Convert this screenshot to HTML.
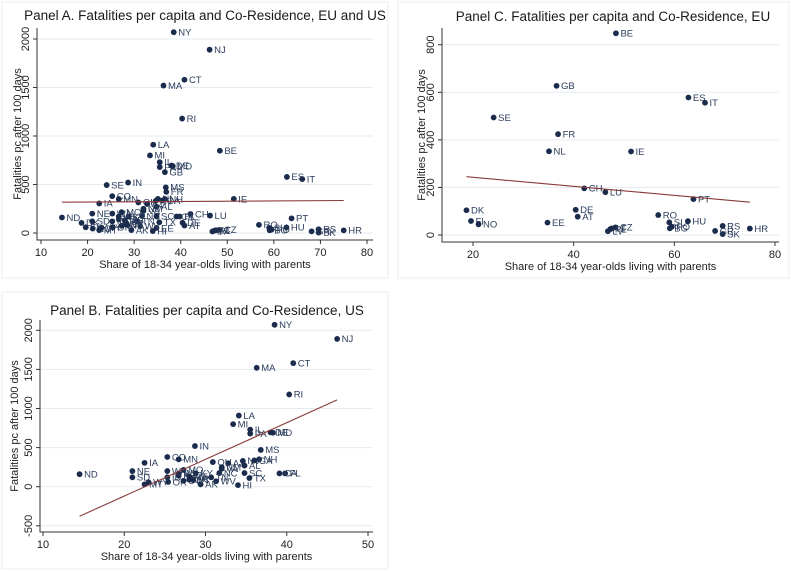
<!DOCTYPE html>
<html><head><meta charset="utf-8"><style>
html,body{margin:0;padding:0;background:#fff;}
svg{display:block;font-family:"Liberation Sans",sans-serif;}
</style></head><body>
<svg id="chart" width="791" height="571" viewBox="0 0 791 571" xmlns="http://www.w3.org/2000/svg">
<rect x="0" y="0" width="791" height="571" fill="#fff"/>
</svg>
<script>
const euCodes=["BE","GB","ES","IT","SE","FR","NL","IE","CH","LU","PT","DK","DE","AT","RO","FI","NO","EE","SI","HU","RS","HR","CZ","LT","LV","PL","BG","PO","SK","GR"];
const euShare=[48.4,36.6,62.8,66.1,24.1,36.9,35.1,51.4,42.1,46.3,63.8,18.7,40.4,40.8,56.8,19.6,21.1,34.8,59.0,62.7,69.6,75.0,48.3,47.6,46.8,47.3,59.1,59.5,69.6,68.1];
const euFatal=[848,627,578,556,494,424,352,351,196,180,151,104,106,77,84,59,45,52,53,58,38,27,32,28,16,25,28,35,4,17];
const usCodes=["NY","NJ","CT","MA","RI","LA","MI","IL","PA","MD","DE","MS","IN","CO","MN","IA","ND","NE","SD","MT","WY","OR","WA","MO","OH","AZ","NH","NV","GA","AL","NM","VA","NC","SC","TN","TX","WV","AK","HI","KY","FL","CA","UT","OK","KS","WI","AR","ME","VT","ID"];
const usShare=[38.5,46.2,40.8,36.3,40.3,34.1,33.4,35.5,35.5,38.3,38.0,36.8,28.7,25.3,26.7,22.5,14.5,21.0,21.0,22.5,23.0,25.4,25.3,27.3,30.9,32.8,36.6,34.6,36.0,34.8,32.0,32.0,31.7,34.8,30.7,35.4,31.3,29.4,34.0,28.8,39.8,39.1,27.3,28.0,26.7,26.7,28.3,28.0,28.5,25.3];
const usFatal=[2070,1890,1580,1520,1180,910,800,730,680,690,695,470,520,380,350,305,160,200,120,30,55,60,200,215,315,300,350,330,335,270,250,230,175,175,120,110,70,30,20,170,170,170,75,90,140,170,100,130,85,120];

const NS="http://www.w3.org/2000/svg";
const svg=document.getElementById('chart');
function mk(tag,attrs,parent,text){const e=document.createElementNS(NS,tag);for(const k in attrs)e.setAttribute(k,attrs[k]);if(text!==undefined)e.textContent=text;(parent||svg).appendChild(e);return e;}

function ols(xs,ys){const n=xs.length;let mx=0,my=0;for(let i=0;i<n;i++){mx+=xs[i];my+=ys[i];}mx/=n;my/=n;let sxy=0,sxx=0;for(let i=0;i<n;i++){sxy+=(xs[i]-mx)*(ys[i]-my);sxx+=(xs[i]-mx)**2;}const b=sxy/sxx;return [my-b*mx,b];}

function panel(cfg){
  const g=mk('g',{});
  
  
  const box=mk('rect',{x:cfg.box[0],y:cfg.box[1],width:cfg.box[2],height:cfg.box[3],fill:'#fff',stroke:'#ececec','stroke-width':1},g);
  
  
  const sx=v=>cfg.x0px+(v-cfg.x0)*(cfg.x1px-cfg.x0px)/(cfg.x1-cfg.x0);
  const sy=v=>cfg.y0px+(v-cfg.y0)*(cfg.y1px-cfg.y0px)/(cfg.y1-cfg.y0);
  cfg.yticks.forEach(t=>{
    const y=sy(t);
    const gl=mk('line',{x1:cfg.left,x2:cfg.right,y1:y,y2:y,stroke:'#e6ebf0','stroke-width':1},g);
    
    
    mk('line',{x1:cfg.left-4,x2:cfg.left,y1:y,y2:y,stroke:'#333','stroke-width':1},g);
    const tl=mk('text',{x:cfg.left-8,y:y,'font-size':11,fill:'#222','text-anchor':'middle',transform:`rotate(-90 ${cfg.left-8} ${y})`},g,String(t));
    
    
  });
  cfg.xticks.forEach(t=>{
    const x=sx(t);
    mk('line',{x1:x,x2:x,y1:cfg.bottom,y2:cfg.bottom+4,stroke:'#333','stroke-width':1},g);
    const tl=mk('text',{x:x,y:cfg.bottom+16,'font-size':11,fill:'#222','text-anchor':'middle'},g,String(t));
    
    
  });
  const ax=mk('path',{d:`M${cfg.left},${cfg.top}V${cfg.bottom}H${cfg.right}`,fill:'none',stroke:'#333','stroke-width':1},g);
  
  
  const xs=[],ys=[];
  cfg.sets.forEach(s=>{
    s.codes.forEach((c,i)=>{
      xs.push(s.share[i]);ys.push(s.fatal[i]);
      const cx=sx(s.share[i]),cy=sy(s.fatal[i]);
      const d=mk('circle',{cx:cx,cy:cy,r:2.9,fill:'#1a2b4c'},g);
      
      
      const l=mk('text',{x:cx+4.5,y:cy+3.3,'font-size':9.5,fill:'#2b3d5c'},g,c);
      
      
    });
  });
  const [a,b]=ols(xs,ys);
  const mn=Math.min(...xs),mx=Math.max(...xs);
  const fl=mk('line',{x1:sx(mn),y1:sy(a+b*mn),x2:sx(mx),y2:sy(a+b*mx),stroke:'#8a3a3a','stroke-width':1.1},g);
  
  
  const tt=mk('text',{x:cfg.titleX,y:cfg.titleY,'font-size':13.5,fill:'#1a1a1a','text-anchor':'middle'},g,cfg.title);
  
  
  const xt=mk('text',{x:(cfg.left+cfg.right)/2,y:cfg.bottom+28,'font-size':11,fill:'#222','text-anchor':'middle'},g,'Share of 18-34 year-olds living with parents');
  
  
  const ym=(cfg.top+cfg.bottom)/2;
  const yt=mk('text',{x:cfg.yTitleX,y:ym,'font-size':11,fill:'#222','text-anchor':'middle',transform:`rotate(-90 ${cfg.yTitleX} ${ym})`},g,'Fatalities pc after 100 days');
  
  
}

panel({name:'panel-a',box:[2,2,386,276],title:'Panel A. Fatalities per capita and Co-Residence, EU and US',titleX:205,titleY:20,
  left:37,right:373,top:28,bottom:240,x0:10,x1:80,x0px:41,x1px:367,y0:0,y1:2000,y0px:233,y1px:39,
  xticks:[10,20,30,40,50,60,70,80],yticks:[0,500,1000,1500,2000],yTitleX:21,
  sets:[{codes:euCodes,share:euShare,fatal:euFatal},{codes:usCodes,share:usShare,fatal:usFatal}]});
panel({name:'panel-c',box:[398,2,391,276],title:'Panel C. Fatalities per capita and Co-Residence, EU',titleX:613,titleY:21,
  left:442,right:779,top:28,bottom:242,x0:20,x1:80,x0px:473,x1px:775,y0:0,y1:800,y0px:235,y1px:44.7,
  xticks:[20,40,60,80],yticks:[0,200,400,600,800],yTitleX:425,
  sets:[{codes:euCodes,share:euShare,fatal:euFatal}]});
panel({name:'panel-b',box:[2,292,386,277],title:'Panel B. Fatalities per capita and Co-Residence, US',titleX:207,titleY:315,
  left:40,right:373,top:320,bottom:532,x0:10,x1:50,x0px:43,x1px:368,y0:0,y1:2000,y0px:486.7,y1px:330.3,
  xticks:[10,20,30,40,50],yticks:[-500,0,500,1000,1500,2000],yTitleX:18,
  sets:[{codes:usCodes,share:usShare,fatal:usFatal}]});
</script>
</body></html>
